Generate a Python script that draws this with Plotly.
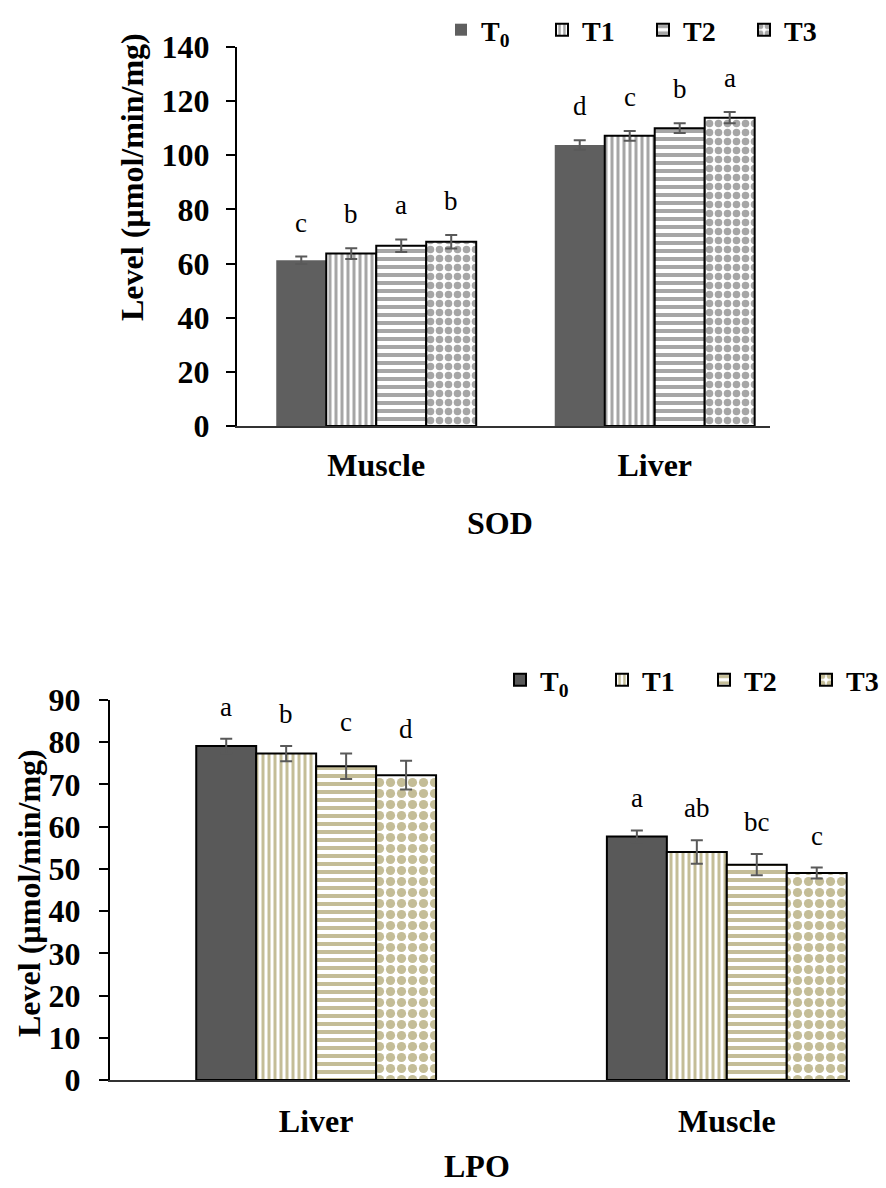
import plotly.graph_objects as go

# ---------------- data ----------------
treatments = ["T<sub>0</sub>", "T1", "T2", "T3"]

sod_groups = ["Muscle", "Liver"]
sod_t0 = [61.2, 103.8]
sod_t1 = [63.7, 107.2]
sod_t2 = [66.6, 110.0]
sod_t3 = [68.1, 113.9]
sod_err_t0 = [1.4, 1.8]
sod_err_t1 = [2.0, 1.8]
sod_err_t2 = [2.3, 1.8]
sod_err_t3 = [2.5, 2.1]
sod_letters_t0 = ["c", "d"]
sod_letters_t1 = ["b", "c"]
sod_letters_t2 = ["a", "b"]
sod_letters_t3 = ["b", "a"]

lpo_groups = ["Liver", "Muscle"]
lpo_t0 = [79.1, 57.7]
lpo_t1 = [77.3, 54.0]
lpo_t2 = [74.3, 51.0]
lpo_t3 = [72.2, 49.0]
lpo_err_t0 = [1.7, 1.4]
lpo_err_t1 = [1.8, 2.8]
lpo_err_t2 = [3.0, 2.5]
lpo_err_t3 = [3.4, 1.3]
lpo_letters_t0 = ["a", "a"]
lpo_letters_t1 = ["b", "ab"]
lpo_letters_t2 = ["c", "bc"]
lpo_letters_t3 = ["d", "c"]

# ---------------- styles ----------------
FONT = "Liberation Serif, Times New Roman, serif"
W, H = 886, 1188
shapes = ["", "|", "-", "."]
pat_sol = [0, 0.5, 0.5, 0.55]

fig = go.Figure()


def add_chart(groups, vals, errs, letters, xa, ya, legend, dark, light,
              t0_line, bw, gap_px, pat_sizes):
    xref = xa.replace("axis", "")
    yref = ya.replace("axis", "")
    for i in range(4):
        if i == 0:
            marker = dict(color=dark,
                          line=dict(color="black" if t0_line else dark,
                                    width=2 if t0_line else 0))
        else:
            marker = dict(color="white", line=dict(color="black", width=2),
                          pattern=dict(shape=shapes[i], fgcolor=light,
                                       bgcolor="white", size=pat_sizes[i],
                                       solidity=pat_sol[i], fillmode="replace"))
        fig.add_trace(go.Bar(
            x=groups, y=vals[i], name=treatments[i],
            width=bw, offset=-2 * bw + i * bw,
            marker=marker,
            error_y=dict(type="data", array=errs[i], color="#595959",
                         thickness=2, width=6),
            xaxis=xref, yaxis=yref, legend=legend,
        ))
        for gi in range(len(groups)):
            fig.add_annotation(
                x=gi + (i - 1.5) * bw, y=vals[i][gi] + errs[i][gi],
                xref=xref, yref=yref, text=letters[i][gi], showarrow=False,
                yanchor="middle", yshift=gap_px,
                font=dict(family=FONT, size=27, color="black"))


add_chart(sod_groups, [sod_t0, sod_t1, sod_t2, sod_t3],
          [sod_err_t0, sod_err_t1, sod_err_t2, sod_err_t3],
          [sod_letters_t0, sod_letters_t1, sod_letters_t2, sod_letters_t3],
          "xaxis", "yaxis", "legend", "#5f5f5f", "#a6a6a6", False,
          0.1795, 34, [0, 6, 8, 9])

add_chart(lpo_groups, [lpo_t0, lpo_t1, lpo_t2, lpo_t3],
          [lpo_err_t0, lpo_err_t1, lpo_err_t2, lpo_err_t3],
          [lpo_letters_t0, lpo_letters_t1, lpo_letters_t2, lpo_letters_t3],
          "xaxis2", "yaxis2", "legend2", "#595959", "#c4bd97", True,
          0.146, 32, [0, 6, 8, 11])

bold = dict(family=FONT, size=32, color="black", weight="bold")


def px_x(p):
    return p / W


def px_y(p):
    return 1 - p / H


yaxis_common = dict(showline=True, linecolor="black", linewidth=2,
                    ticks="outside", ticklen=9, tickwidth=2, tickcolor="black",
                    showgrid=False, zeroline=False, tickfont=bold)
xaxis_common = dict(type="category", showline=True, linecolor="#333333",
                    linewidth=1.5, ticks="", showgrid=False, zeroline=False,
                    tickfont=bold)

fig.update_layout(
    width=W, height=H,
    margin=dict(l=0, r=0, t=0, b=0, autoexpand=False),
    paper_bgcolor="white", plot_bgcolor="white",
    barmode="overlay",
    showlegend=True,
    xaxis=dict(xaxis_common, domain=[px_x(237), px_x(770)],
               range=[-0.5, 1.414], anchor="y", ticklabelstandoff=10),
    yaxis=dict(yaxis_common, domain=[px_y(426), px_y(47)],
               range=[0, 140], dtick=20, anchor="x", ticklabelstandoff=10),
    xaxis2=dict(xaxis_common, domain=[px_x(110), px_x(850)],
                range=[-0.502, 1.3], anchor="y2", ticklabelstandoff=12),
    yaxis2=dict(yaxis_common, domain=[px_y(1080), px_y(700)],
                range=[0, 90], dtick=10, anchor="x2", ticklabelstandoff=12),
    legend=dict(orientation="h", xref="container", yref="container",
                x=px_x(441), y=px_y(30), xanchor="left",
                yanchor="middle", entrywidth=56, font=dict(bold, size=28),
                bgcolor="rgba(0,0,0,0)"),
    legend2=dict(orientation="h", xref="container", yref="container",
                 x=px_x(500), y=px_y(680), xanchor="left",
                 yanchor="middle", entrywidth=57, font=dict(bold, size=28),
                 bgcolor="rgba(0,0,0,0)"),
)

for txt, x, y, ang in [("Level (µmol/min/mg)", 132, 177, -90),
                       ("Level (µmol/min/mg)", 29, 893, -90),
                       ("SOD", 500, 523, 0),
                       ("LPO", 477, 1166, 0)]:
    fig.add_annotation(text=txt, textangle=ang, showarrow=False,
                       xref="paper", yref="paper", x=px_x(x), y=px_y(y),
                       xanchor="center", yanchor="middle", font=bold)

fig.write_html("out.html")
